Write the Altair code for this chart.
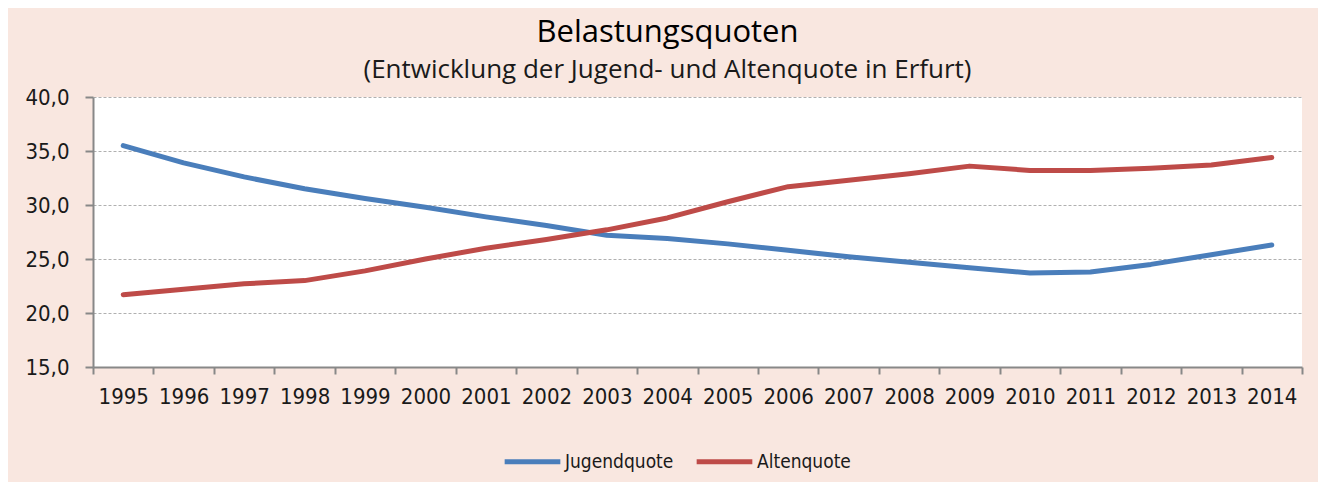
import altair as alt
import pandas as pd

years = [str(y) for y in range(1995, 2015)]
jugendquote = [35.5, 33.9, 32.6, 31.5, 30.6, 29.8, 28.9, 28.1, 27.2, 26.9,
               26.4, 25.8, 25.2, 24.7, 24.2, 23.7, 23.8, 24.5, 25.4, 26.3]
altenquote = [21.7, 22.2, 22.7, 23.0, 23.9, 25.0, 26.0, 26.8, 27.7, 28.8,
              30.3, 31.7, 32.3, 32.9, 33.6, 33.2, 33.2, 33.4, 33.7, 34.4]
series_names = ["Jugendquote", "Altenquote"]
series_colors = ["#4A7EBB", "#BE4B48"]
y_ticks = [15, 20, 25, 30, 35, 40]

rows = []
for i, yr in enumerate(years):
    rows.append({"Jahr": yr, "Quote": "Jugendquote", "Wert": jugendquote[i]})
    rows.append({"Jahr": yr, "Quote": "Altenquote", "Wert": altenquote[i]})
df = pd.DataFrame(rows)

LABEL_FONT = "DejaVu Sans Condensed"

chart = alt.Chart(df).mark_line(strokeWidth=5, strokeCap="round", strokeJoin="round").encode(
    x=alt.X("Jahr:N", title=None, sort=years,
            scale=alt.Scale(paddingInner=0, paddingOuter=0),
            axis=alt.Axis(labelAngle=0, tickBand="extent", labelFont=LABEL_FONT,
                          labelFontSize=22, labelColor="#1a1a1a", labelPadding=12,
                          tickColor="#888888", tickSize=7, tickWidth=2,
                          domainColor="#888888", domainWidth=2, grid=False)),
    y=alt.Y("Wert:Q", title=None,
            scale=alt.Scale(domain=[15, 40], nice=False, zero=False),
            axis=alt.Axis(values=y_ticks, labelExpr="replace(format(datum.value, '.1f'), '.', ',')",
                          labelFont=LABEL_FONT, labelFontSize=22, labelColor="#1a1a1a",
                          labelPadding=16, tickColor="#888888", tickSize=8, tickWidth=2,
                          domainColor="#888888", domainWidth=2,
                          grid=True, gridColor="#b0b0b0", gridDash=[3, 2], gridWidth=1)),
    color=alt.Color("Quote:N", sort=series_names,
                    scale=alt.Scale(domain=series_names, range=series_colors),
                    legend=alt.Legend(title=None, orient="none", direction="horizontal",
                                      legendX=409, legendY=334,
                                      symbolType="stroke", symbolSize=3100, symbolStrokeWidth=5,
                                      labelFont=LABEL_FONT, labelFontSize=19, labelColor="#1a1a1a",
                                      labelOffset=2, columnPadding=12)),
).properties(
    width=1209,
    height=270,
    autosize=alt.AutoSizeParams(type="none"),
    padding={"left": 85, "top": 89, "right": 16, "bottom": 115},
    background="#F9E7E0",
    title=alt.TitleParams(
        text="Belastungsquoten",
        subtitle="(Entwicklung der Jugend- und Altenquote in Erfurt)",
        font="Open Sans", fontSize=31, fontWeight=500, color="#000000",
        subtitleFont="Open Sans", subtitleFontSize=26, subtitleColor="#1a1a1a",
        subtitlePadding=8, anchor="middle", dx=-30, offset=2,
    ),
).configure_view(fill="white", stroke=None)

chart.save("out.html", embed_options={"renderer": "svg", "actions": False})
